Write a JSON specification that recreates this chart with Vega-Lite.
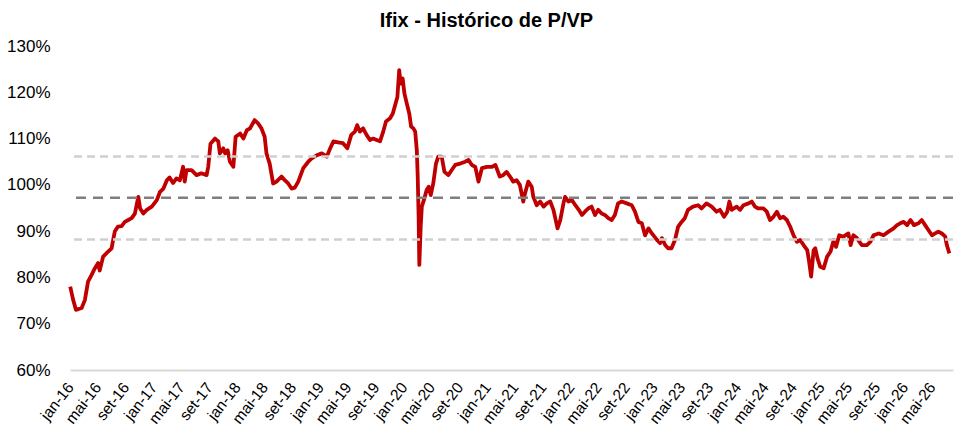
{
  "$schema": "https://vega.github.io/schema/vega-lite/v6.json",
  "description": "Ifix - Histórico de P/VP",
  "width": 883,
  "height": 324,
  "autosize": {"type": "none"},
  "padding": {"left": 70, "top": 46, "right": 22, "bottom": 77},
  "background": "white",
  "title": {
    "text": "Ifix - Histórico de P/VP",
    "font": "Liberation Sans",
    "fontSize": 20,
    "fontWeight": "bold",
    "color": "black",
    "anchor": "middle",
    "dx": -25,
    "offset": 6
  },
  "config": {
    "view": {"stroke": null},
    "axis": {"labelFont": "Liberation Sans", "labelColor": "black"}
  },
  "datasets": {
    "pvp": [
      {"data": "2016-01-02", "pvp": 0.780},
      {"data": "2016-01-15", "pvp": 0.751},
      {"data": "2016-01-27", "pvp": 0.730},
      {"data": "2016-02-21", "pvp": 0.734},
      {"data": "2016-03-06", "pvp": 0.751},
      {"data": "2016-03-20", "pvp": 0.791},
      {"data": "2016-04-04", "pvp": 0.805},
      {"data": "2016-04-19", "pvp": 0.820},
      {"data": "2016-05-03", "pvp": 0.831},
      {"data": "2016-05-10", "pvp": 0.815},
      {"data": "2016-05-25", "pvp": 0.845},
      {"data": "2016-06-16", "pvp": 0.856},
      {"data": "2016-07-01", "pvp": 0.863},
      {"data": "2016-07-08", "pvp": 0.881},
      {"data": "2016-07-15", "pvp": 0.899},
      {"data": "2016-07-29", "pvp": 0.910},
      {"data": "2016-08-14", "pvp": 0.911},
      {"data": "2016-08-28", "pvp": 0.920},
      {"data": "2016-09-12", "pvp": 0.924},
      {"data": "2016-09-27", "pvp": 0.928},
      {"data": "2016-10-11", "pvp": 0.938},
      {"data": "2016-10-26", "pvp": 0.974},
      {"data": "2016-11-03", "pvp": 0.949},
      {"data": "2016-11-17", "pvp": 0.938},
      {"data": "2016-12-02", "pvp": 0.946},
      {"data": "2016-12-24", "pvp": 0.953},
      {"data": "2017-01-15", "pvp": 0.967},
      {"data": "2017-01-29", "pvp": 0.985},
      {"data": "2017-02-13", "pvp": 0.992},
      {"data": "2017-02-28", "pvp": 1.010},
      {"data": "2017-03-12", "pvp": 1.016},
      {"data": "2017-03-27", "pvp": 1.004},
      {"data": "2017-04-11", "pvp": 1.014},
      {"data": "2017-04-26", "pvp": 1.010},
      {"data": "2017-05-10", "pvp": 1.039},
      {"data": "2017-05-17", "pvp": 1.007},
      {"data": "2017-05-25", "pvp": 1.032},
      {"data": "2017-06-16", "pvp": 1.032},
      {"data": "2017-07-08", "pvp": 1.021},
      {"data": "2017-07-29", "pvp": 1.025},
      {"data": "2017-08-21", "pvp": 1.021},
      {"data": "2017-08-28", "pvp": 1.039},
      {"data": "2017-09-07", "pvp": 1.089},
      {"data": "2017-09-27", "pvp": 1.100},
      {"data": "2017-10-11", "pvp": 1.094},
      {"data": "2017-10-18", "pvp": 1.068},
      {"data": "2017-11-02", "pvp": 1.079},
      {"data": "2017-11-10", "pvp": 1.068},
      {"data": "2017-11-21", "pvp": 1.075},
      {"data": "2017-12-01", "pvp": 1.050},
      {"data": "2017-12-16", "pvp": 1.039},
      {"data": "2017-12-26", "pvp": 1.104},
      {"data": "2018-01-15", "pvp": 1.111},
      {"data": "2018-01-29", "pvp": 1.100},
      {"data": "2018-02-13", "pvp": 1.118},
      {"data": "2018-02-27", "pvp": 1.122},
      {"data": "2018-03-19", "pvp": 1.140},
      {"data": "2018-04-03", "pvp": 1.133},
      {"data": "2018-04-18", "pvp": 1.122},
      {"data": "2018-05-02", "pvp": 1.104},
      {"data": "2018-05-10", "pvp": 1.068},
      {"data": "2018-05-24", "pvp": 1.046},
      {"data": "2018-06-08", "pvp": 1.003},
      {"data": "2018-06-23", "pvp": 1.007},
      {"data": "2018-07-15", "pvp": 1.018},
      {"data": "2018-07-29", "pvp": 1.010},
      {"data": "2018-08-13", "pvp": 1.003},
      {"data": "2018-08-28", "pvp": 0.992},
      {"data": "2018-09-11", "pvp": 0.994},
      {"data": "2018-09-26", "pvp": 1.007},
      {"data": "2018-10-18", "pvp": 1.036},
      {"data": "2018-11-09", "pvp": 1.050},
      {"data": "2018-11-24", "pvp": 1.057},
      {"data": "2018-12-16", "pvp": 1.064},
      {"data": "2019-01-07", "pvp": 1.068},
      {"data": "2019-01-29", "pvp": 1.061},
      {"data": "2019-02-13", "pvp": 1.079},
      {"data": "2019-02-27", "pvp": 1.094},
      {"data": "2019-03-19", "pvp": 1.092},
      {"data": "2019-04-10", "pvp": 1.090},
      {"data": "2019-04-29", "pvp": 1.079},
      {"data": "2019-05-16", "pvp": 1.108},
      {"data": "2019-06-01", "pvp": 1.115},
      {"data": "2019-06-11", "pvp": 1.129},
      {"data": "2019-06-23", "pvp": 1.115},
      {"data": "2019-07-07", "pvp": 1.122},
      {"data": "2019-07-22", "pvp": 1.108},
      {"data": "2019-08-06", "pvp": 1.097},
      {"data": "2019-08-20", "pvp": 1.100},
      {"data": "2019-09-04", "pvp": 1.097},
      {"data": "2019-09-19", "pvp": 1.094},
      {"data": "2019-10-03", "pvp": 1.115},
      {"data": "2019-10-15", "pvp": 1.137},
      {"data": "2019-11-02", "pvp": 1.144},
      {"data": "2019-11-14", "pvp": 1.154},
      {"data": "2019-11-24", "pvp": 1.172},
      {"data": "2019-12-04", "pvp": 1.190},
      {"data": "2019-12-12", "pvp": 1.248},
      {"data": "2019-12-18", "pvp": 1.219},
      {"data": "2019-12-27", "pvp": 1.230},
      {"data": "2020-01-04", "pvp": 1.197},
      {"data": "2020-01-14", "pvp": 1.176},
      {"data": "2020-01-25", "pvp": 1.154},
      {"data": "2020-02-02", "pvp": 1.126},
      {"data": "2020-02-12", "pvp": 1.122},
      {"data": "2020-02-20", "pvp": 1.115},
      {"data": "2020-02-27", "pvp": 1.075},
      {"data": "2020-03-02", "pvp": 1.018},
      {"data": "2020-03-06", "pvp": 0.931},
      {"data": "2020-03-09", "pvp": 0.827},
      {"data": "2020-03-15", "pvp": 0.910},
      {"data": "2020-03-20", "pvp": 0.953},
      {"data": "2020-03-29", "pvp": 0.967},
      {"data": "2020-04-10", "pvp": 0.989},
      {"data": "2020-04-19", "pvp": 0.996},
      {"data": "2020-04-28", "pvp": 0.978},
      {"data": "2020-05-09", "pvp": 1.003},
      {"data": "2020-05-21", "pvp": 1.046},
      {"data": "2020-05-31", "pvp": 1.061},
      {"data": "2020-06-15", "pvp": 1.061},
      {"data": "2020-06-27", "pvp": 1.028},
      {"data": "2020-07-14", "pvp": 1.021},
      {"data": "2020-07-29", "pvp": 1.032},
      {"data": "2020-08-13", "pvp": 1.043},
      {"data": "2020-09-04", "pvp": 1.046},
      {"data": "2020-09-26", "pvp": 1.050},
      {"data": "2020-10-10", "pvp": 1.054},
      {"data": "2020-10-25", "pvp": 1.043},
      {"data": "2020-11-09", "pvp": 1.039},
      {"data": "2020-11-23", "pvp": 1.007},
      {"data": "2020-12-08", "pvp": 1.036},
      {"data": "2020-12-30", "pvp": 1.039},
      {"data": "2021-01-21", "pvp": 1.039},
      {"data": "2021-02-05", "pvp": 1.043},
      {"data": "2021-02-24", "pvp": 1.018},
      {"data": "2021-03-11", "pvp": 1.021},
      {"data": "2021-03-26", "pvp": 1.028},
      {"data": "2021-04-10", "pvp": 1.018},
      {"data": "2021-04-24", "pvp": 1.007},
      {"data": "2021-05-09", "pvp": 1.010},
      {"data": "2021-05-23", "pvp": 1.000},
      {"data": "2021-06-07", "pvp": 0.964},
      {"data": "2021-06-15", "pvp": 0.982},
      {"data": "2021-06-29", "pvp": 1.007},
      {"data": "2021-07-14", "pvp": 0.996},
      {"data": "2021-07-21", "pvp": 0.974},
      {"data": "2021-08-05", "pvp": 0.956},
      {"data": "2021-08-20", "pvp": 0.964},
      {"data": "2021-09-04", "pvp": 0.953},
      {"data": "2021-09-18", "pvp": 0.960},
      {"data": "2021-10-03", "pvp": 0.964},
      {"data": "2021-10-17", "pvp": 0.946},
      {"data": "2021-11-04", "pvp": 0.906},
      {"data": "2021-11-16", "pvp": 0.924},
      {"data": "2021-11-30", "pvp": 0.960},
      {"data": "2021-12-07", "pvp": 0.974},
      {"data": "2021-12-22", "pvp": 0.964},
      {"data": "2022-01-06", "pvp": 0.967},
      {"data": "2022-01-21", "pvp": 0.956},
      {"data": "2022-02-05", "pvp": 0.946},
      {"data": "2022-02-19", "pvp": 0.935},
      {"data": "2022-03-04", "pvp": 0.942},
      {"data": "2022-03-18", "pvp": 0.949},
      {"data": "2022-04-02", "pvp": 0.953},
      {"data": "2022-04-17", "pvp": 0.935},
      {"data": "2022-05-01", "pvp": 0.946},
      {"data": "2022-05-16", "pvp": 0.938},
      {"data": "2022-05-30", "pvp": 0.935},
      {"data": "2022-06-14", "pvp": 0.928},
      {"data": "2022-06-29", "pvp": 0.924},
      {"data": "2022-07-13", "pvp": 0.935},
      {"data": "2022-07-27", "pvp": 0.960},
      {"data": "2022-08-12", "pvp": 0.964},
      {"data": "2022-09-03", "pvp": 0.960},
      {"data": "2022-09-25", "pvp": 0.956},
      {"data": "2022-10-09", "pvp": 0.942},
      {"data": "2022-10-24", "pvp": 0.920},
      {"data": "2022-11-08", "pvp": 0.917},
      {"data": "2022-11-22", "pvp": 0.891},
      {"data": "2022-12-07", "pvp": 0.906},
      {"data": "2022-12-22", "pvp": 0.895},
      {"data": "2023-01-13", "pvp": 0.881},
      {"data": "2023-01-27", "pvp": 0.874},
      {"data": "2023-02-04", "pvp": 0.885},
      {"data": "2023-02-18", "pvp": 0.870},
      {"data": "2023-03-03", "pvp": 0.863},
      {"data": "2023-03-18", "pvp": 0.863},
      {"data": "2023-04-02", "pvp": 0.881},
      {"data": "2023-04-16", "pvp": 0.910},
      {"data": "2023-05-01", "pvp": 0.920},
      {"data": "2023-05-15", "pvp": 0.928},
      {"data": "2023-05-29", "pvp": 0.946},
      {"data": "2023-06-20", "pvp": 0.953},
      {"data": "2023-07-12", "pvp": 0.956},
      {"data": "2023-07-27", "pvp": 0.949},
      {"data": "2023-08-18", "pvp": 0.960},
      {"data": "2023-09-10", "pvp": 0.953},
      {"data": "2023-10-01", "pvp": 0.942},
      {"data": "2023-10-16", "pvp": 0.946},
      {"data": "2023-11-03", "pvp": 0.931},
      {"data": "2023-11-17", "pvp": 0.942},
      {"data": "2023-11-26", "pvp": 0.964},
      {"data": "2023-12-06", "pvp": 0.946},
      {"data": "2023-12-28", "pvp": 0.953},
      {"data": "2024-01-12", "pvp": 0.946},
      {"data": "2024-01-27", "pvp": 0.956},
      {"data": "2024-02-18", "pvp": 0.960},
      {"data": "2024-03-03", "pvp": 0.964},
      {"data": "2024-03-17", "pvp": 0.953},
      {"data": "2024-04-01", "pvp": 0.949},
      {"data": "2024-04-23", "pvp": 0.949},
      {"data": "2024-05-08", "pvp": 0.942},
      {"data": "2024-05-22", "pvp": 0.924},
      {"data": "2024-06-06", "pvp": 0.931},
      {"data": "2024-06-21", "pvp": 0.942},
      {"data": "2024-07-05", "pvp": 0.928},
      {"data": "2024-07-19", "pvp": 0.931},
      {"data": "2024-08-04", "pvp": 0.924},
      {"data": "2024-08-18", "pvp": 0.910},
      {"data": "2024-09-02", "pvp": 0.891},
      {"data": "2024-09-17", "pvp": 0.877},
      {"data": "2024-10-01", "pvp": 0.881},
      {"data": "2024-10-16", "pvp": 0.870},
      {"data": "2024-11-01", "pvp": 0.859},
      {"data": "2024-11-08", "pvp": 0.838},
      {"data": "2024-11-18", "pvp": 0.802},
      {"data": "2024-11-29", "pvp": 0.859},
      {"data": "2024-12-06", "pvp": 0.863},
      {"data": "2024-12-16", "pvp": 0.841},
      {"data": "2024-12-28", "pvp": 0.823},
      {"data": "2025-01-12", "pvp": 0.820},
      {"data": "2025-01-27", "pvp": 0.845},
      {"data": "2025-02-11", "pvp": 0.856},
      {"data": "2025-02-25", "pvp": 0.881},
      {"data": "2025-03-07", "pvp": 0.866},
      {"data": "2025-03-21", "pvp": 0.891},
      {"data": "2025-04-08", "pvp": 0.888},
      {"data": "2025-04-30", "pvp": 0.895},
      {"data": "2025-05-10", "pvp": 0.870},
      {"data": "2025-05-22", "pvp": 0.891},
      {"data": "2025-06-06", "pvp": 0.885},
      {"data": "2025-06-28", "pvp": 0.870},
      {"data": "2025-07-20", "pvp": 0.870},
      {"data": "2025-08-04", "pvp": 0.877},
      {"data": "2025-08-18", "pvp": 0.891},
      {"data": "2025-09-10", "pvp": 0.895},
      {"data": "2025-10-01", "pvp": 0.891},
      {"data": "2025-10-23", "pvp": 0.899},
      {"data": "2025-11-14", "pvp": 0.906},
      {"data": "2025-11-29", "pvp": 0.913},
      {"data": "2025-12-13", "pvp": 0.917},
      {"data": "2025-12-28", "pvp": 0.920},
      {"data": "2026-01-12", "pvp": 0.913},
      {"data": "2026-01-27", "pvp": 0.924},
      {"data": "2026-02-11", "pvp": 0.913},
      {"data": "2026-03-03", "pvp": 0.917},
      {"data": "2026-03-17", "pvp": 0.924},
      {"data": "2026-04-01", "pvp": 0.913},
      {"data": "2026-04-16", "pvp": 0.902},
      {"data": "2026-05-01", "pvp": 0.891},
      {"data": "2026-05-15", "pvp": 0.895},
      {"data": "2026-05-29", "pvp": 0.899},
      {"data": "2026-06-13", "pvp": 0.895},
      {"data": "2026-06-28", "pvp": 0.888},
      {"data": "2026-07-05", "pvp": 0.870},
      {"data": "2026-07-16", "pvp": 0.852}
    ],
    "linhas": [
      {"linha": "desvio", "pvp": 1.061},
      {"linha": "media", "pvp": 0.972},
      {"linha": "desvio", "pvp": 0.882}
    ]
  },
  "layer": [
    {
      "data": {"name": "pvp"},
      "mark": {"type": "line", "color": "#c00000", "strokeWidth": 3.8, "strokeJoin": "round"},
      "encoding": {
        "x": {
          "field": "data",
          "type": "temporal",
          "scale": {"type": "utc", "domain": ["2016-01-01", "2026-08-01"]},
          "axis": {
            "title": null,
            "tickCount": {"interval": "month", "step": 4},
            "labelExpr": "['jan','fev','mar','abr','mai','jun','jul','ago','set','out','nov','dez'][utcmonth(datum.value)] + '-' + utcFormat(datum.value, '%y')",
            "labelAngle": -52,
            "labelFontSize": 15.5,
            "labelPadding": 14,
            "labelOverlap": false,
            "labelFlush": false,
            "labelBound": false,
            "ticks": false,
            "grid": false,
            "domainColor": "#d9d9d9",
            "domainWidth": 2
          }
        },
        "y": {
          "field": "pvp",
          "type": "quantitative",
          "scale": {"domain": [0.6, 1.3]},
          "axis": {
            "title": null,
            "values": [0.6, 0.7, 0.8, 0.9, 1.0, 1.1, 1.2, 1.3],
            "format": ".0%",
            "labelFontSize": 17,
            "labelPadding": 20,
            "ticks": false,
            "domain": false,
            "grid": false
          }
        }
      }
    },
    {
      "data": {"name": "linhas"},
      "mark": {"type": "rule", "strokeWidth": 2.5},
      "encoding": {
        "y": {"field": "pvp", "type": "quantitative"},
        "color": {
          "field": "linha",
          "type": "nominal",
          "scale": {"domain": ["media", "desvio"], "range": ["#7f7f7f", "#d0d0d0"]},
          "legend": null
        },
        "strokeDash": {
          "field": "linha",
          "type": "nominal",
          "scale": {"domain": ["media", "desvio"], "range": [[10, 7], [8, 5]]},
          "legend": null
        }
      }
    }
  ]
}
